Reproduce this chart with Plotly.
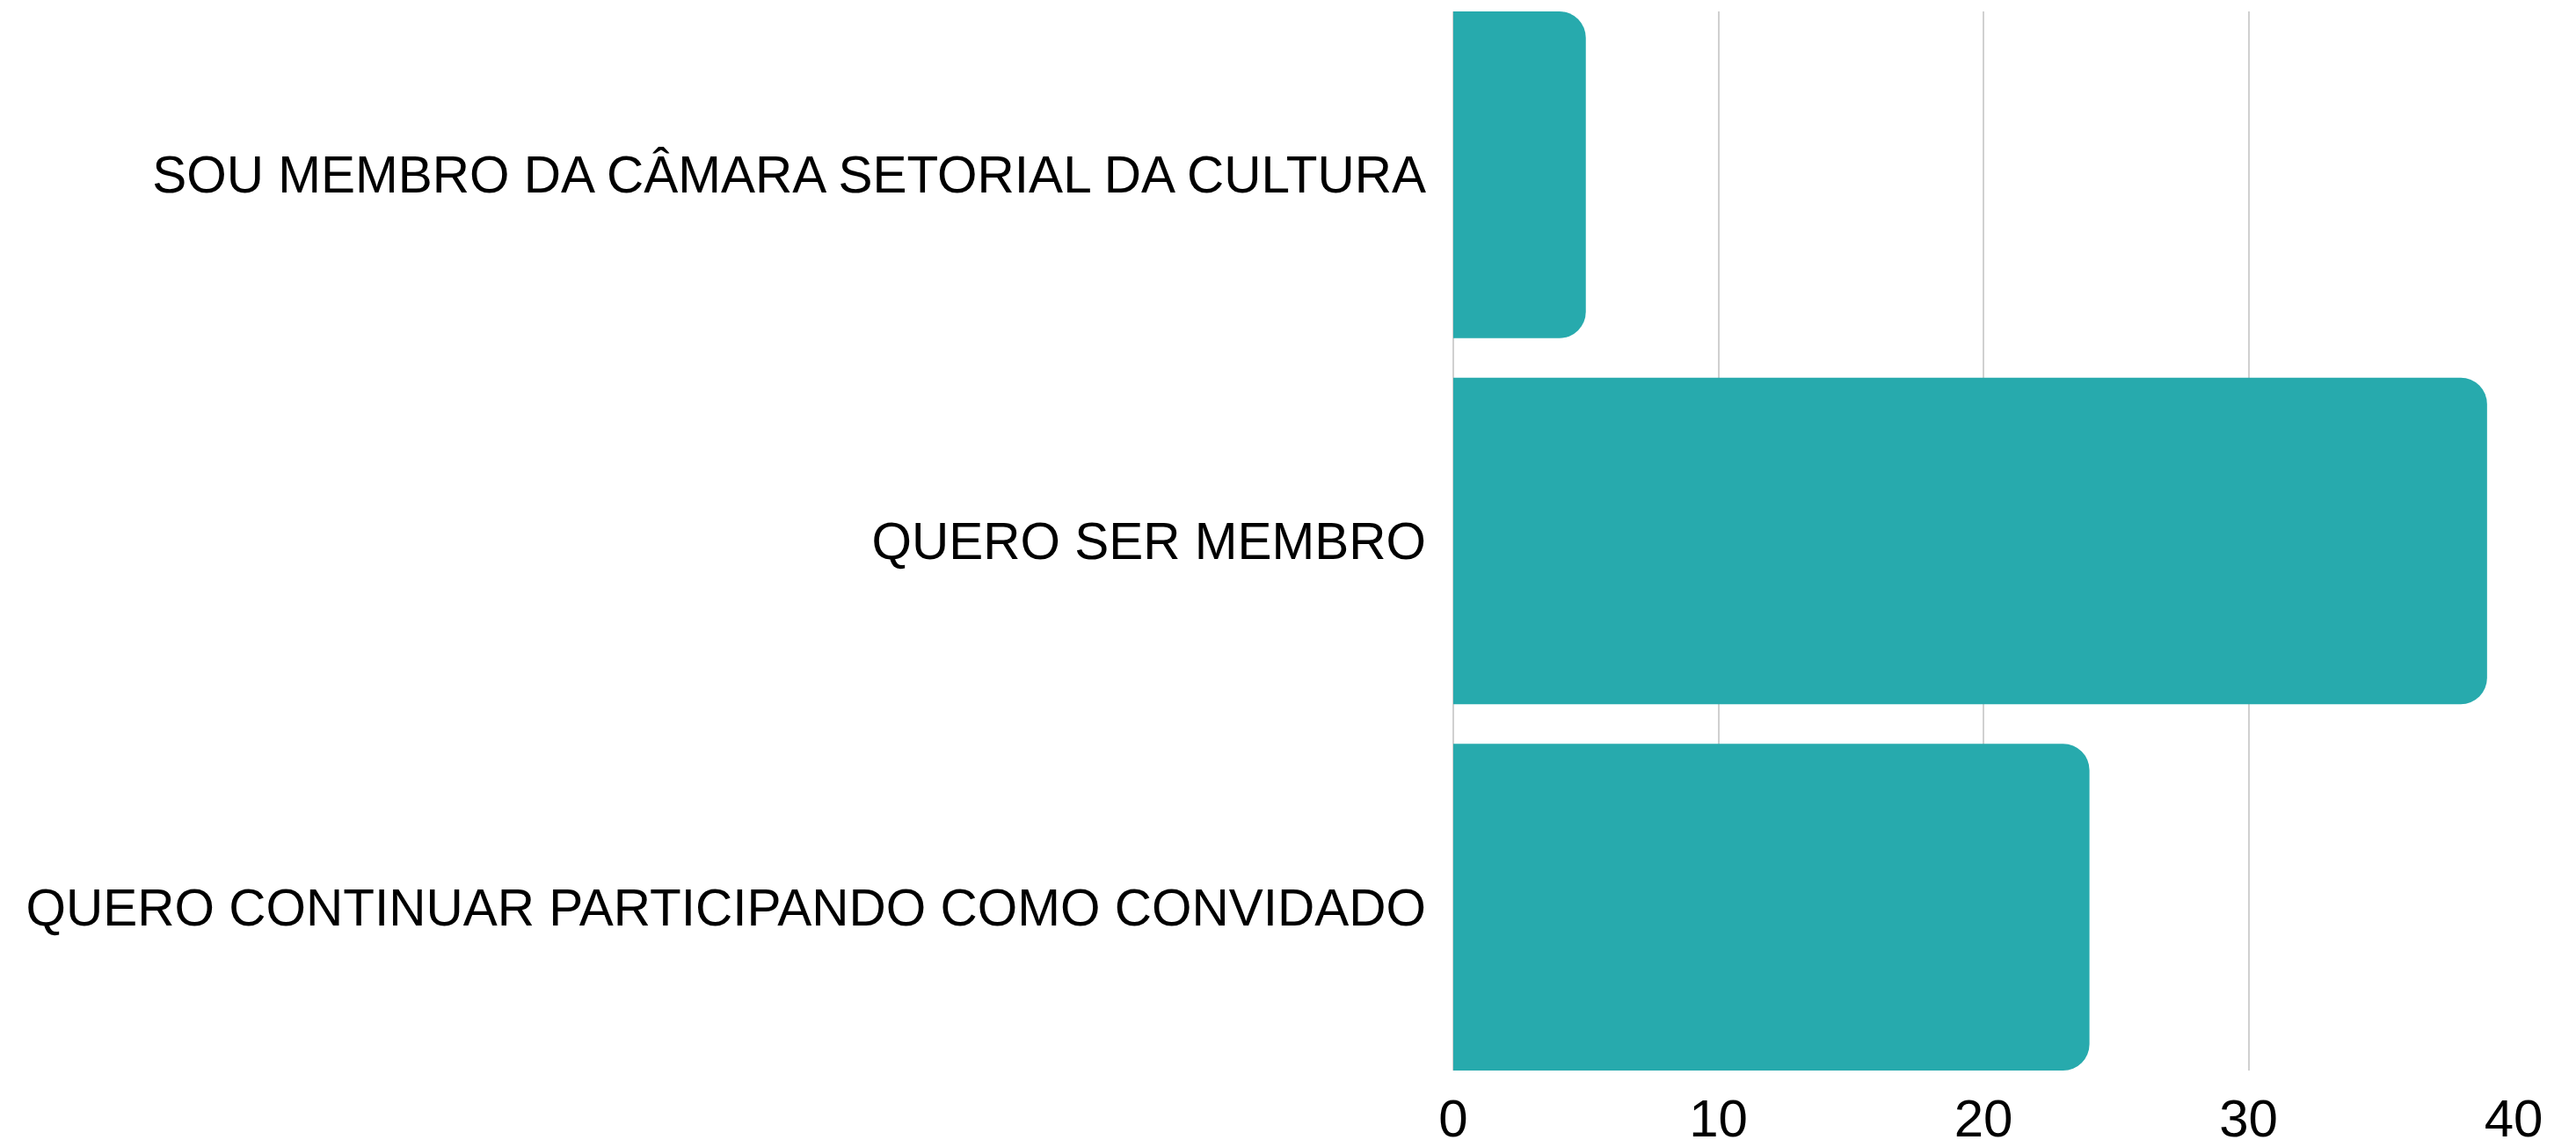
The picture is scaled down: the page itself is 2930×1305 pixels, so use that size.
import plotly.graph_objects as go

categories = [
    "SOU MEMBRO DA CÂMARA SETORIAL DA CULTURA",
    "QUERO SER MEMBRO",
    "QUERO CONTINUAR PARTICIPANDO COMO CONVIDADO",
]
values = [5, 39, 24]
x_ticks = [0, 10, 20, 30, 40]

fig = go.Figure(
    go.Bar(
        x=values,
        y=categories,
        orientation="h",
        marker=dict(color="#27AAAD", line=dict(width=0)),
    )
)

# the page body adds an 8px margin, so the figure is sized to fit the window
fig.update_layout(
    width=2922,
    height=1297,
    margin=dict(l=1645, r=71, t=5, b=87, autoexpand=False),
    paper_bgcolor="white",
    plot_bgcolor="white",
    bargap=0.108,
    barcornerradius=30,
    showlegend=False,
    font=dict(family="Liberation Sans, Arial, sans-serif", color="black"),
)

fig.update_xaxes(
    range=[0, 40],
    tickvals=x_ticks,
    ticktext=[str(v) for v in x_ticks],
    showgrid=True,
    gridcolor="#D0D0D0",
    gridwidth=2,
    zeroline=True,
    zerolinecolor="#D0D0D0",
    zerolinewidth=2,
    showline=False,
    tickfont=dict(size=60, color="black"),
    ticklabelstandoff=14,
)

fig.update_yaxes(
    autorange=False,
    range=[2.446, -0.446],
    showgrid=False,
    zeroline=False,
    showline=False,
    tickfont=dict(size=58.5, color="black"),
    ticklabelstandoff=30,
)

fig.write_html("out.html")
